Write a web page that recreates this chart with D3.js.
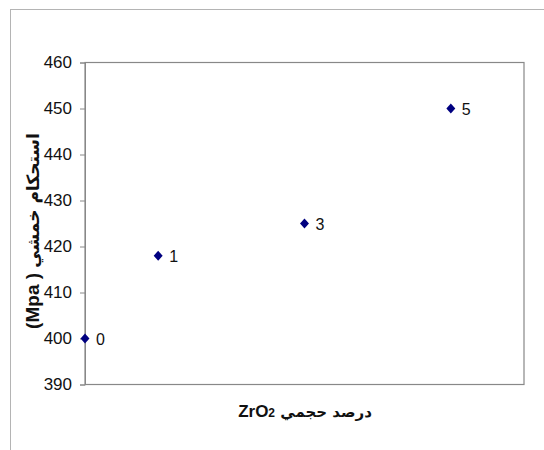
<!DOCTYPE html>
<html><head><meta charset="utf-8">
<script src="https://cdn.jsdelivr.net/npm/d3@7"></script>
<style>body{margin:0;background:#fff}svg{display:block}</style>
</head><body>
<svg id="c" width="544" height="450"></svg>
<script>
const xValues = [0, 1, 3, 5];
const yValues = [400, 418, 425, 450];
const pointLabels = ["0", "1", "3", "5"];
const yTicks = [390, 400, 410, 420, 430, 440, 450, 460];
const yTitleLatin = "\u200E(Mpa )\u200E ";
const yTitleArabic = "استحکام خمشي";
const xTitleLatin = "ZrO";
const xTitleSub = "2";
const xTitleArabic = " درصد حجمي";

const svg = d3.select("#c");
const m = {l: 85, t: 62.5, r: 524, b: 384.5};
const x = d3.scaleLinear().domain([0, 6]).range([m.l, m.r]);
const y = d3.scaleLinear().domain([390, 460]).range([m.b, m.t]);

// outer chart area border
svg.append("rect").attr("x", 10.5).attr("y", 9.5).attr("width", 700).attr("height", 600)
  .attr("fill", "none").attr("stroke", "#b4b4b4");

// plot area
svg.append("rect").attr("x", m.l).attr("y", m.t).attr("width", m.r - m.l).attr("height", m.b - m.t)
  .attr("fill", "#fff").attr("stroke", "#888").attr("stroke-width", 1.2);

const ya = svg.append("g").attr("transform", `translate(${m.l},0)`)
  .call(d3.axisLeft(y).tickValues(yTicks).tickSize(5).tickPadding(8).tickFormat(d3.format("d")));
ya.select(".domain").attr("stroke", "#888");
ya.selectAll(".tick line").attr("stroke", "#888");
ya.selectAll(".tick text").attr("font-family", "'Liberation Sans', Arial, sans-serif")
  .attr("font-size", 17).attr("fill", "#111");

const diamond = d3.symbol().type(d3.symbolSquare).size(40);
const pts = svg.append("g");
xValues.forEach((v, i) => {
  pts.append("path").attr("d", diamond)
    .attr("transform", `translate(${x(v)},${y(yValues[i])}) scale(1,1.12) rotate(45)`)
    .attr("fill", "#000080");
  pts.append("text").attr("x", x(v) + 11).attr("y", y(yValues[i]) + 6)
    .attr("font-family", "'Liberation Sans', Arial, sans-serif").attr("font-size", 16)
    .attr("fill", "#111").text(pointLabels[i]);
});

// y title
const yt = svg.append("text").attr("transform", "translate(39,231) rotate(-90)")
  .attr("text-anchor", "middle").attr("direction", "ltr")
  .attr("font-family", "'Liberation Sans', Arial, sans-serif").attr("font-weight", "bold")
  .attr("font-size", 19).attr("fill", "#111");
yt.append("tspan").text(yTitleLatin);
yt.append("tspan").attr("font-family", "'DejaVu Sans', sans-serif").attr("font-size", 17).text(yTitleArabic);

// x title
const xt = svg.append("text").attr("x", 305).attr("y", 417)
  .attr("text-anchor", "middle").attr("direction", "ltr")
  .attr("font-family", "'Liberation Sans', Arial, sans-serif").attr("font-weight", "bold")
  .attr("font-size", 17).attr("fill", "#111");
xt.append("tspan").text(xTitleLatin);
xt.append("tspan").attr("font-size", 12).text(xTitleSub);
xt.append("tspan").attr("font-family", "'DejaVu Sans', sans-serif").attr("font-size", 15).text(xTitleArabic);
</script>
</body></html>
